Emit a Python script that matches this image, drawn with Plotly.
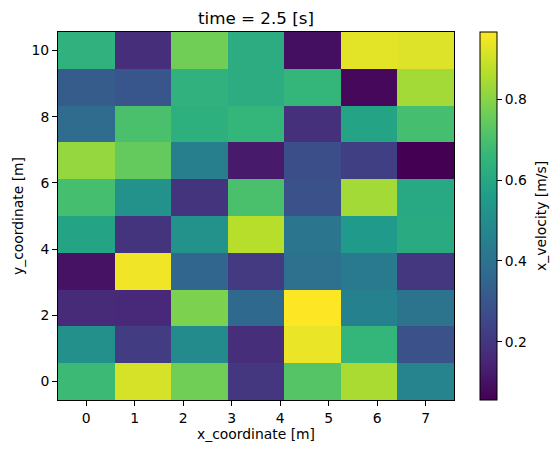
import numpy as np
import plotly.graph_objects as go

x_coordinate = [0.0, 1.1667, 2.3333, 3.5, 4.6667, 5.8333, 7.0]
y_coordinate = [0.0, 1.1111, 2.2222, 3.3333, 4.4444, 5.5556, 6.6667, 7.7778, 8.8889, 10.0]

# rows from y=0 (bottom) to y=10 (top)
row_y0 = [0.675, 0.911, 0.766, 0.202, 0.720, 0.848, 0.466]
row_y1 = [0.511, 0.220, 0.493, 0.174, 0.939, 0.657, 0.284]
row_y2 = [0.165, 0.156, 0.784, 0.365, 0.966, 0.456, 0.402]
row_y3 = [0.102, 0.948, 0.356, 0.211, 0.393, 0.429, 0.202]
row_y4 = [0.584, 0.193, 0.520, 0.866, 0.411, 0.547, 0.611]
row_y5 = [0.693, 0.520, 0.193, 0.702, 0.284, 0.839, 0.602]
row_y6 = [0.820, 0.748, 0.447, 0.120, 0.274, 0.229, 0.056]
row_y7 = [0.375, 0.702, 0.629, 0.657, 0.183, 0.584, 0.693]
row_y8 = [0.320, 0.302, 0.638, 0.620, 0.657, 0.074, 0.839]
row_y9 = [0.638, 0.174, 0.766, 0.620, 0.092, 0.930, 0.921]

x_velocity = [row_y0, row_y1, row_y2, row_y3, row_y4,
              row_y5, row_y6, row_y7, row_y8, row_y9]

x_ticks = [0, 1, 2, 3, 4, 5, 6, 7]
y_ticks = [0, 2, 4, 6, 8, 10]
cbar_ticks = [0.2, 0.4, 0.6, 0.8]

zmin = float(np.min(x_velocity))
zmax = float(np.max(x_velocity))

FONT = "DejaVu Sans"
FS = 13.9
TFS = 16.7

fig = go.Figure(
    go.Heatmap(
        x=x_coordinate,
        y=y_coordinate,
        z=x_velocity,
        colorscale="Viridis",
        zmin=zmin,
        zmax=zmax,
        colorbar=dict(
            x=1.0657,
            xanchor="left",
            xpad=0,
            y=0,
            yanchor="bottom",
            ypad=0,
            len=1,
            lenmode="fraction",
            thickness=17,
            thicknessmode="pixels",
            outlinecolor="black",
            outlinewidth=1,
            tickvals=cbar_ticks,
            ticktext=[f"{v:.1f}" for v in cbar_ticks],
            ticks="outside",
            ticklen=5,
            tickwidth=1,
            tickcolor="black",
            tickfont=dict(family=FONT, size=FS, color="black"),
        ),
    )
)

dx = x_coordinate[1] - x_coordinate[0]
dy = y_coordinate[1] - y_coordinate[0]

fig.update_layout(
    width=558,
    height=455,
    margin=dict(l=58, r=104, t=32, b=55),
    paper_bgcolor="white",
    plot_bgcolor="white",
    font=dict(family=FONT, size=FS, color="black"),
    title=dict(text="time = 2.5 [s]", x=(58 + 396 / 2) / 558, xanchor="center",
               y=1 - 18.5 / 455, yanchor="middle",
               font=dict(family=FONT, size=TFS, color="black")),
    xaxis=dict(
        range=[x_coordinate[0] - dx / 2, x_coordinate[-1] + dx / 2],
        tickvals=x_ticks,
        ticks="outside", ticklen=5, tickwidth=1, tickcolor="black",
        showline=True, linecolor="black", linewidth=1, mirror=True,
        showgrid=False, zeroline=False, automargin=False,
        tickfont=dict(family=FONT, size=FS, color="black"),
        title=dict(text="x_coordinate [m]", standoff=4,
                   font=dict(family=FONT, size=FS, color="black")),
    ),
    yaxis=dict(
        range=[y_coordinate[0] - dy / 2, y_coordinate[-1] + dy / 2],
        tickvals=y_ticks,
        ticks="outside", ticklen=5, tickwidth=1, tickcolor="black",
        showline=True, linecolor="black", linewidth=1, mirror=True,
        showgrid=False, zeroline=False, automargin=False,
        tickfont=dict(family=FONT, size=FS, color="black"),
        title=dict(text="y_coordinate [m]", standoff=4,
                   font=dict(family=FONT, size=FS, color="black")),
    ),
    annotations=[
        dict(
            text="x_velocity [m/s]",
            xref="paper", yref="paper",
            x=(541 - 58) / 396, y=0.5,
            xanchor="center", yanchor="middle",
            textangle=-90, showarrow=False,
            font=dict(family=FONT, size=FS, color="black"),
        )
    ],
)

fig.write_html(
    "out.html",
    config={"displayModeBar": False},
    post_script="document.body.style.margin='0';document.body.style.overflow='hidden';",
)
